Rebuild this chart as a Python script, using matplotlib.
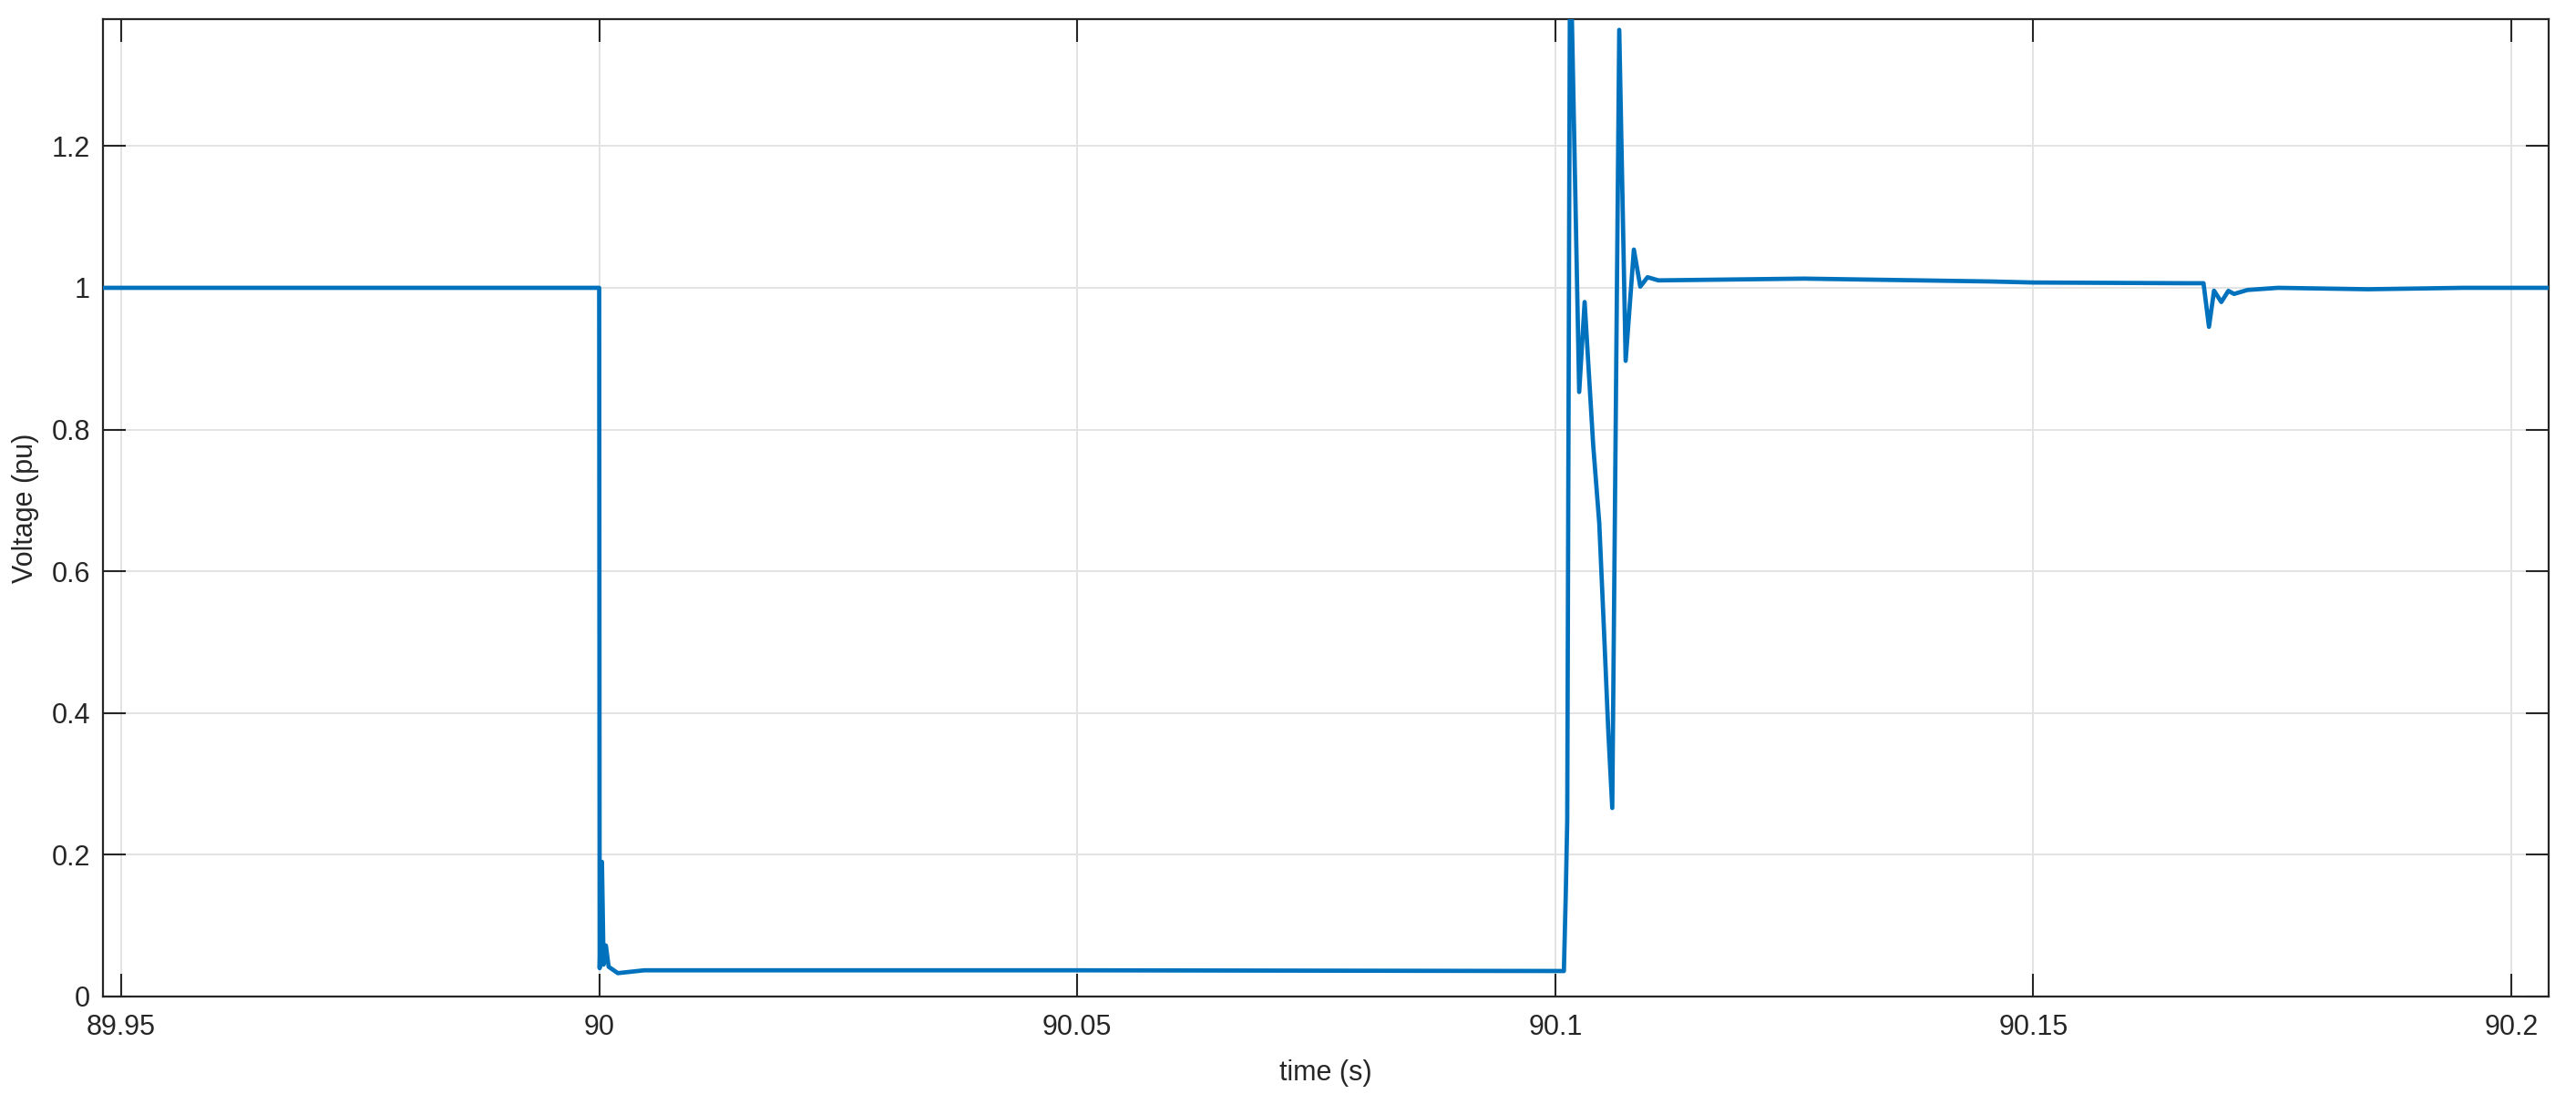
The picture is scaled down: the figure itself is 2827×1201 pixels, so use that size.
import matplotlib
matplotlib.use("Agg")
import matplotlib.pyplot as plt
from matplotlib.ticker import FormatStrFormatter

# Voltage trace (time in s, voltage in pu)
time_s = [89.948, 90.0, 90.00005, 90.00029, 90.00046, 90.0007, 90.00099,
          90.00195, 90.00471, 90.05, 90.1009, 90.1011, 90.10125, 90.10152,
          90.1016, 90.10174, 90.1025, 90.10307, 90.10396, 90.1046, 90.10508,
          90.10555, 90.10596, 90.10669, 90.10736, 90.10822, 90.10889,
          90.10965, 90.11079, 90.126, 90.1454, 90.150, 90.166, 90.1678,
          90.16837, 90.1689, 90.16966, 90.1704, 90.1710, 90.1724, 90.1756,
          90.185, 90.195, 90.2039]
voltage_pu = [1.0, 1.0, 0.040, 0.19, 0.045, 0.072, 0.042,
              0.033, 0.037, 0.037, 0.036, 0.146, 0.249, 1.378,
              1.42, 1.378, 0.853, 0.98, 0.779, 0.668, 0.521,
              0.373, 0.266, 1.364, 0.897, 1.054, 1.0017,
              1.015, 1.0105, 1.013, 1.009, 1.0075, 1.0065, 1.0065,
              0.945, 0.996, 0.980, 0.9957, 0.9914, 0.997, 1.0,
              0.998, 1.0, 1.0]

x_ticks = [89.95, 90.0, 90.05, 90.1, 90.15, 90.2]
y_ticks = [0, 0.2, 0.4, 0.6, 0.8, 1.0, 1.2]

plt.rcParams['font.family'] = ['Liberation Sans', 'DejaVu Sans']

fig = plt.figure(figsize=(28.27, 12.01), dpi=100)
ax = fig.add_axes([0.03997, 0.0891, 0.94942, 0.8930])

ax.plot(time_s, voltage_pu, color='#0072BD', linewidth=3.4,
        solid_joinstyle='round', zorder=3)

ax.set_xlim(89.9481, 90.2039)
ax.set_ylim(0, 1.3785)
ax.set_xticks(x_ticks)
ax.set_yticks(y_ticks)
ax.xaxis.set_major_formatter(FormatStrFormatter('%g'))
ax.yaxis.set_major_formatter(FormatStrFormatter('%g'))

ax.grid(True, color='#e3e3e3', linewidth=1.4, zorder=0)
ax.set_axisbelow(True)

dark = '#262626'
for sp in ax.spines.values():
    sp.set_color(dark)
    sp.set_linewidth(1.6)

ax.tick_params(direction='in', length=18, width=1.5, colors=dark,
               labelsize=22, top=True, right=True)
ax.tick_params(axis='x', pad=14)
ax.tick_params(axis='y', pad=10)

ax.set_xlabel('time (s)', fontsize=22, color=dark, labelpad=14)
ax.set_ylabel('Voltage (pu)', fontsize=22, color=dark, labelpad=10)

fig.savefig('out.png', dpi=100, facecolor='white')
